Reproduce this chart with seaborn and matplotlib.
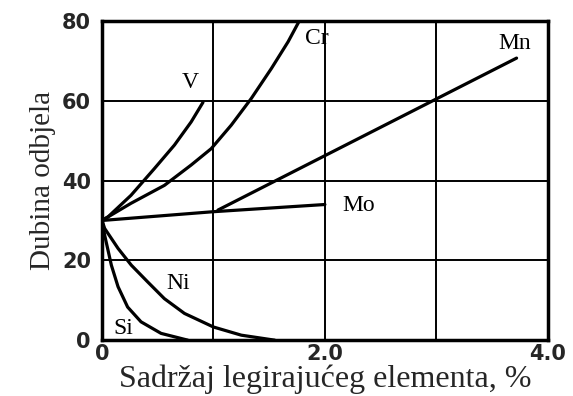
import matplotlib
matplotlib.use("Agg")
import matplotlib.pyplot as plt
import seaborn as sns
import pandas as pd

# Data
v_x = [0, 0.054, 0.26, 0.47, 0.65, 0.80, 0.906]
v_y = [30, 30.9, 36.3, 43, 48.9, 54.7, 59.6]
cr_x = [0, 0.26, 0.56, 0.80, 0.98, 1.16, 1.34, 1.52, 1.67, 1.77]
cr_y = [30, 34.3, 38.8, 43.9, 48, 53.9, 60.6, 68.1, 74.8, 80]
mn_x = [1.04, 3.72]
mn_y = [32.6, 70.7]
mo_x = [0, 1.0, 2.0]
mo_y = [30, 32.2, 34]
ni_x = [0, 0.024, 0.144, 0.263, 0.41, 0.56, 0.74, 1.0, 1.25, 1.55]
ni_y = [30, 28, 23, 18.8, 14.6, 10.4, 6.7, 3.3, 1.25, 0]
si_x = [0, 0.024, 0.084, 0.144, 0.23, 0.35, 0.53, 0.77]
si_y = [30, 26.3, 18.8, 13.4, 8.3, 4.6, 1.7, 0]

labels = ["V", "Cr", "Mn", "Mo", "Ni", "Si"]
label_x = [0.79, 1.93, 3.70, 2.30, 0.68, 0.19]
label_y = [64.5, 75.7, 74.4, 33.8, 14.3, 3.0]

x_ticks = [0, 1, 2, 3, 4]
x_ticklabels = ["0", "", "2.0", "", "4.0"]
y_ticks = [0, 20, 40, 60, 80]
y_ticklabels = ["0", "20", "40", "60", "80"]

sns.set_style("white")

fig = plt.figure(figsize=(5.73, 3.96), dpi=100)
ax = fig.add_axes([0.178, 0.141, 0.778, 0.806])

series = [(v_x, v_y), (cr_x, cr_y), (mn_x, mn_y), (mo_x, mo_y), (ni_x, ni_y), (si_x, si_y)]
for name, (xs, ys) in zip(labels, series):
    df = pd.DataFrame({"x": xs, "y": ys})
    sns.lineplot(data=df, x="x", y="y", ax=ax, color="black", linewidth=2.3,
                 sort=False, estimator=None, legend=False)

for t, lx, ly in zip(labels, label_x, label_y):
    ax.text(lx, ly, t, fontfamily="Liberation Serif", fontsize=17,
            ha="center", va="center", color="black")

ax.set_xlim(0, 4)
ax.set_ylim(0, 80)
ax.set_xticks(x_ticks)
ax.set_xticklabels(x_ticklabels)
ax.set_yticks(y_ticks)
ax.set_yticklabels(y_ticklabels)
for lbl in ax.get_xticklabels() + ax.get_yticklabels():
    lbl.set_fontfamily("DejaVu Sans")
    lbl.set_fontweight("bold")
    lbl.set_fontsize(15)
ax.tick_params(axis="both", length=0, pad=3)
ax.tick_params(axis="y", pad=8)

ax.grid(True, color="black", linewidth=1.4)
ax.set_axisbelow(True)
for s in ax.spines.values():
    s.set_visible(True)
    s.set_color("black")
    s.set_linewidth(2.5)

ax.set_xlabel("Sadržaj legirajućeg elementa, %", fontfamily="Liberation Serif",
              fontsize=23, labelpad=0)
ax.set_ylabel("Dubina odbjela", fontfamily="Liberation Serif", fontsize=21, labelpad=4)

fig.savefig("out.png", dpi=100)
